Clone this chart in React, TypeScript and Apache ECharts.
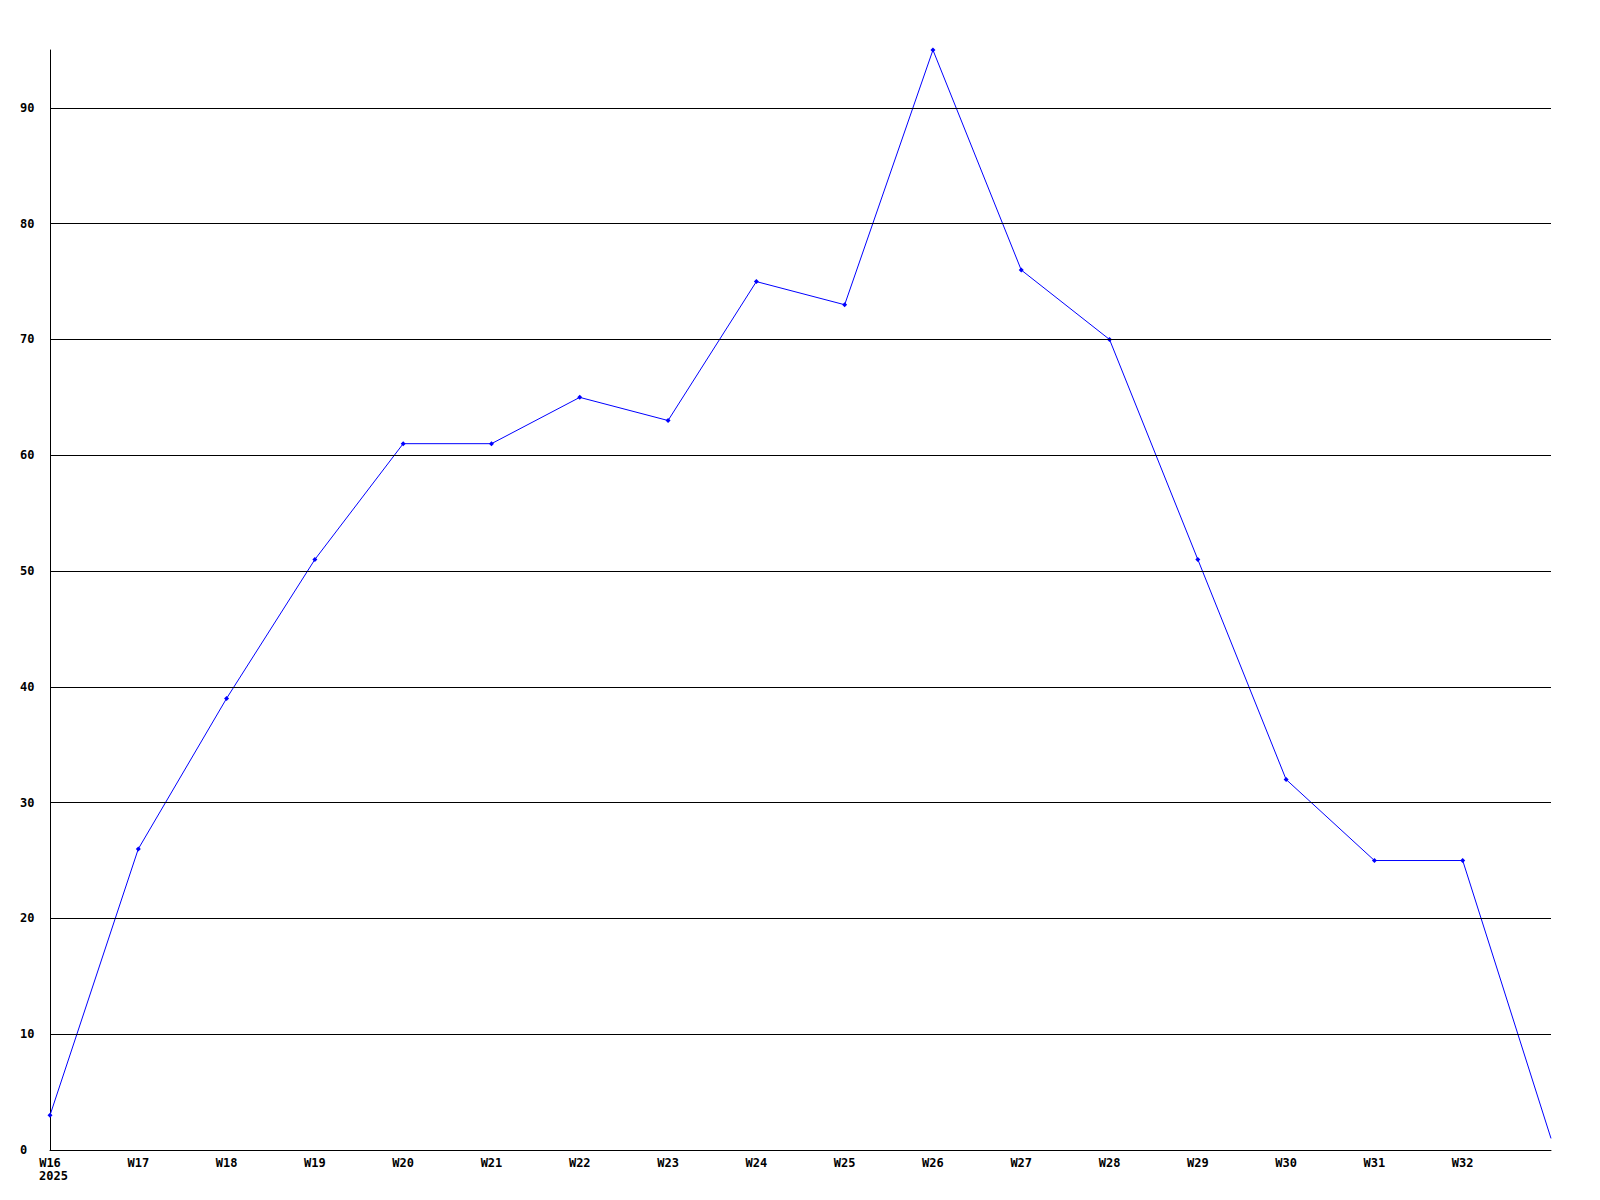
import React, { useEffect, useRef } from "react";
import * as echarts from "echarts";

const weeks = ["W16", "W17", "W18", "W19", "W20", "W21", "W22", "W23", "W24", "W25", "W26", "W27", "W28", "W29", "W30", "W31", "W32", "W33"];
const values = [3, 26, 39, 51, 61, 61, 65, 63, 75, 73, 95, 76, 70, 51, 32, 25, 25, 1];
const gridValues = [10, 20, 30, 40, 50, 60, 70, 80, 90];
const hiddenLabels = ["W33"];
const yearLabel = "2025";

const FONT = "'DejaVu Sans Mono', monospace";

export default function App() {
  const ref = useRef<HTMLDivElement>(null);
  useEffect(() => {
    document.body.style.margin = "0";
    const chart = echarts.init(ref.current!, null, { renderer: "svg" });
    const lastIdx = values.length - 1;
    chart.setOption({
      animation: false,
      backgroundColor: "#ffffff",
      grid: { left: 50, right: 49, top: 50, bottom: 50, containLabel: false },
      xAxis: {
        type: "category",
        data: weeks,
        boundaryGap: false,
        axisLine: { show: true, lineStyle: { color: "#000", width: 1 } },
        axisTick: { show: false },
        axisLabel: {
          color: "#000",
          fontFamily: FONT,
          fontWeight: "bold",
          fontSize: 12,
          margin: 7,
          interval: 0,
          formatter: (v: string) => (hiddenLabels.includes(v) ? "" : v),
        },
        splitLine: { show: false },
      },
      yAxis: {
        type: "value",
        min: 0,
        max: 95,
        interval: 10,
        axisLine: { show: true, lineStyle: { color: "#000", width: 1 } },
        axisTick: { show: false },
        axisLabel: {
          color: "#000",
          fontFamily: FONT,
          fontWeight: "bold",
          fontSize: 12,
          align: "left",
          margin: 30,
          formatter: (v: number) => (v % 10 === 0 ? String(v) : ""),
        },
        splitLine: { show: false },
      },
      graphic: [
        {
          type: "text",
          left: 39,
          top: 1170,
          style: { text: yearLabel, fill: "#000", font: `bold 12px ${FONT}` },
        },
      ],
      series: [
        {
          type: "line",
          data: values.map((v, i) => (i === lastIdx ? { value: v, symbol: "none" } : v)),
          symbol: "diamond",
          symbolSize: 5,
          showSymbol: true,
          itemStyle: { color: "#0000ff" },
          lineStyle: { color: "#0000ff", width: 1 },
          markLine: {
            silent: true,
            symbol: "none",
            label: { show: false },
            lineStyle: { color: "#000", type: "solid", width: 1 },
            data: gridValues.map((v) => ({ yAxis: v })),
          },
          z: 3,
        },
      ],
    });
    return () => chart.dispose();
  }, []);
  return <div ref={ref} style={{ width: 1600, height: 1200 }} />;
}
